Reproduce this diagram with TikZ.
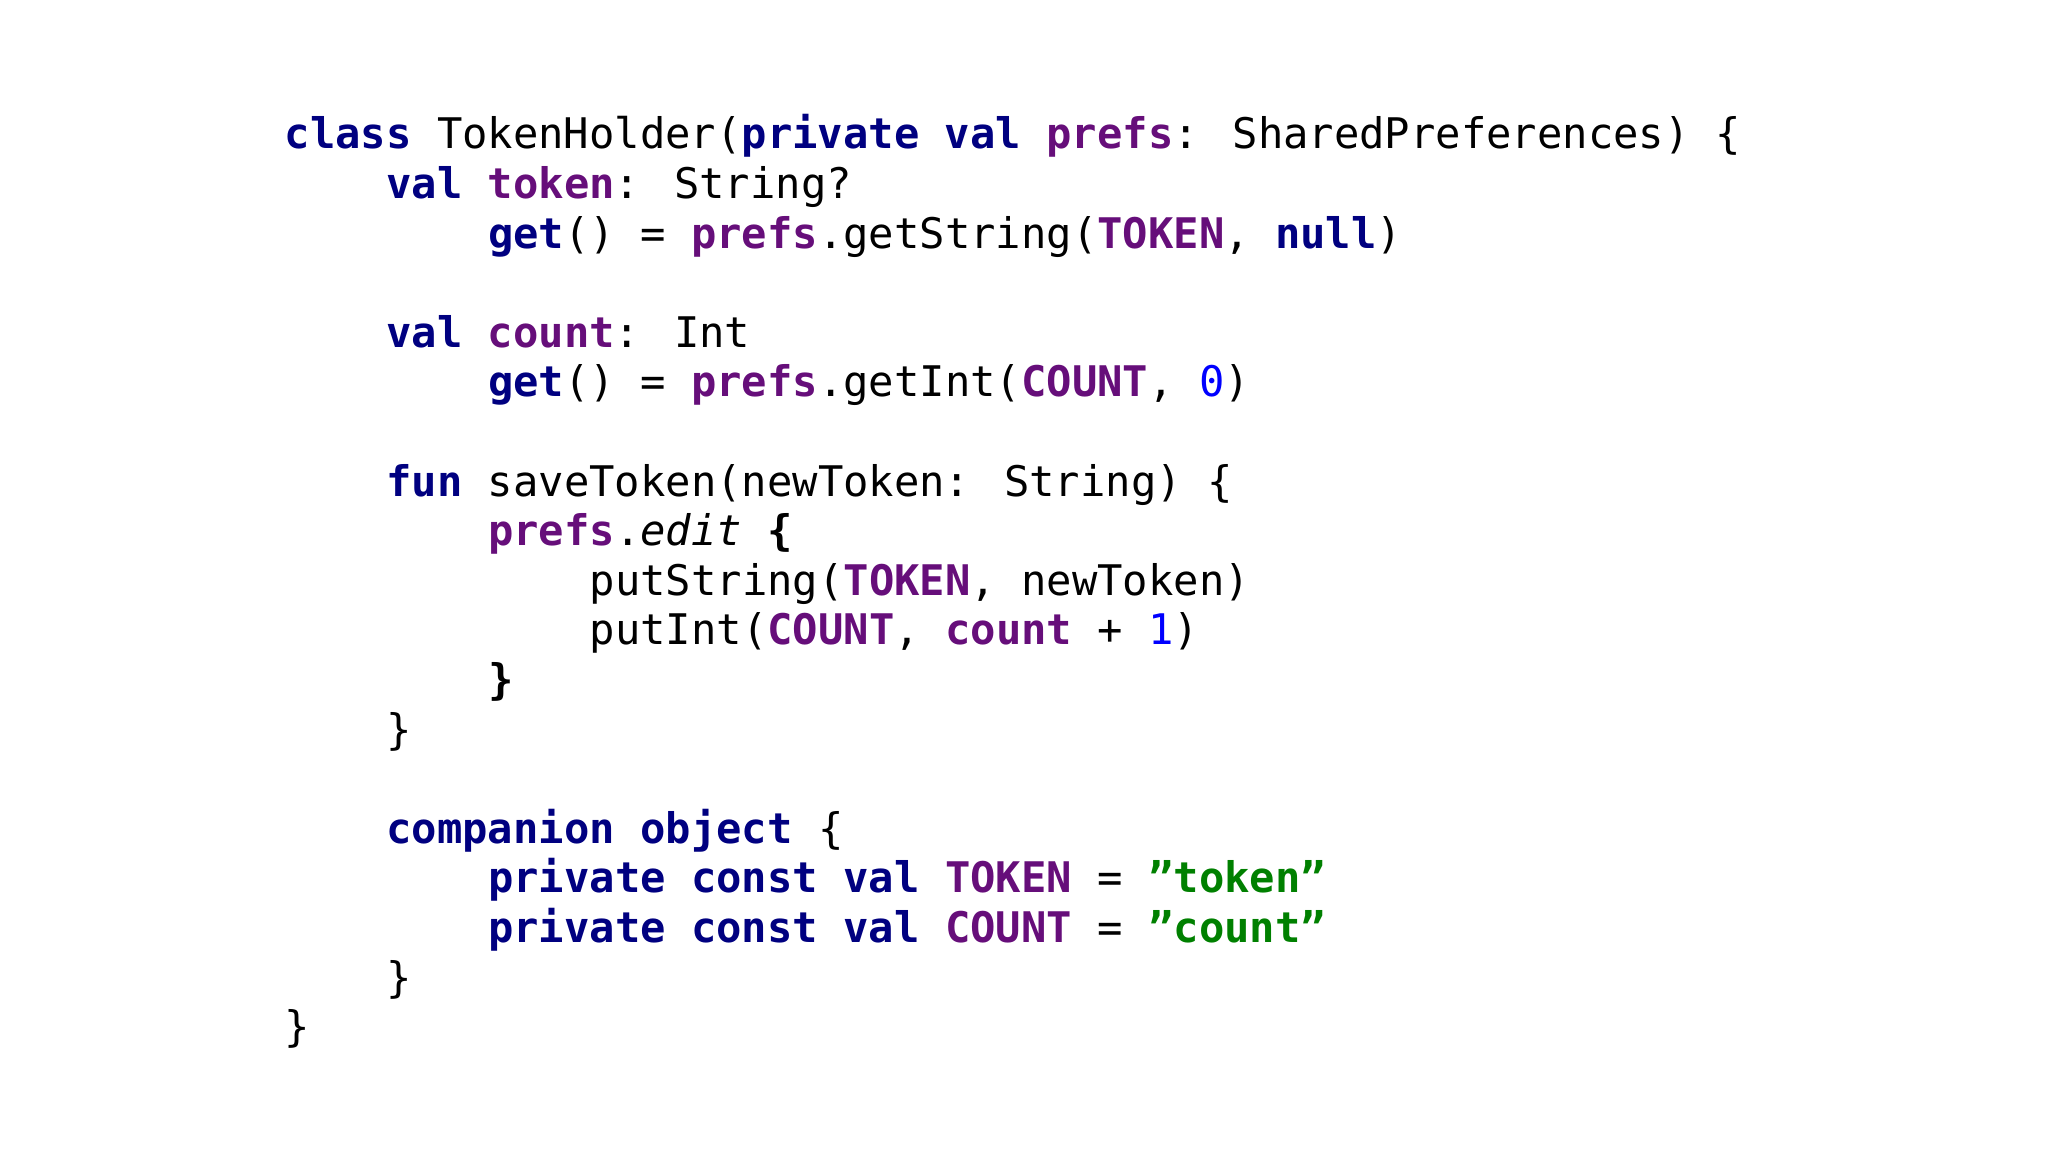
\documentclass[tikz,border=0pt]{standalone}
\usepackage{fontspec}
\setmainfont{DejaVu Sans Mono}
\setmonofont{DejaVu Sans Mono}
\definecolor{kwc}{RGB}{0,0,128}
\definecolor{ppc}{RGB}{102,14,122}
\definecolor{stc}{RGB}{0,128,0}
\definecolor{nmc}{RGB}{0,0,255}
\newcommand{\kw}[1]{\textbf{\color{kwc}#1}}
\newcommand{\pp}[1]{\textbf{\color{ppc}#1}}
\newcommand{\str}[1]{\textbf{\color{stc}#1}}
\newcommand{\nm}[1]{{\color{nmc}#1}}
\begin{document}
\begin{tikzpicture}[x=1cm,y=1cm,codeline/.style={anchor=base west,inner sep=0pt,font=\fontsize{12}{14}\selectfont}]
\useasboundingbox (0,0) rectangle (20.48,11.52);
\def\cl#1#2#3{\node[codeline] (#1) at ({2.84+0.2542*#2},{10.03-0.496*#3}) {\obeyspaces #3};}
\node[codeline] (l0) at (2.84,10.03) {\kw{class} TokenHolder(\kw{private} \kw{val} \pp{prefs}: SharedPreferences) \{};
\node[codeline] (l1) at ({2.84+0.2542*4},{10.03-0.496*1}) {\kw{val} \pp{token}: String?};
\node[codeline] (l2) at ({2.84+0.2542*8},{10.03-0.496*2}) {\kw{get}() = \pp{prefs}.getString(\pp{TOKEN}, \kw{null})};
\node[codeline] (l4) at ({2.84+0.2542*4},{10.03-0.496*4}) {\kw{val} \pp{count}: Int};
\node[codeline] (l5) at ({2.84+0.2542*8},{10.03-0.496*5}) {\kw{get}() = \pp{prefs}.getInt(\pp{COUNT}, \nm{0})};
\node[codeline] (l7) at ({2.84+0.2542*4},{10.03-0.496*7}) {\kw{fun} saveToken(newToken: String) \{};
\node[codeline] (l8) at ({2.84+0.2542*8},{10.03-0.496*8}) {\pp{prefs}.\textit{edit} \textbf{\{}};
\node[codeline] (l9) at ({2.84+0.2542*12},{10.03-0.496*9}) {putString(\pp{TOKEN}, newToken)};
\node[codeline] (l10) at ({2.84+0.2542*12},{10.03-0.496*10}) {putInt(\pp{COUNT}, \pp{count} + \nm{1})};
\node[codeline] (l11) at ({2.84+0.2542*8},{10.03-0.496*11}) {\textbf{\}}};
\node[codeline] (l12) at ({2.84+0.2542*4},{10.03-0.496*12}) {\}};
\node[codeline] (l14) at ({2.84+0.2542*4},{10.03-0.496*14}) {\kw{companion} \kw{object} \{};
\node[codeline] (l15) at ({2.84+0.2542*8},{10.03-0.496*15}) {\kw{private} \kw{const} \kw{val} \pp{TOKEN} = \str{"token"}};
\node[codeline] (l16) at ({2.84+0.2542*8},{10.03-0.496*16}) {\kw{private} \kw{const} \kw{val} \pp{COUNT} = \str{"count"}};
\node[codeline] (l17) at ({2.84+0.2542*4},{10.03-0.496*17}) {\}};
\node[codeline] (l18) at (2.84,{10.03-0.496*18}) {\}};
\end{tikzpicture}
\end{document}
